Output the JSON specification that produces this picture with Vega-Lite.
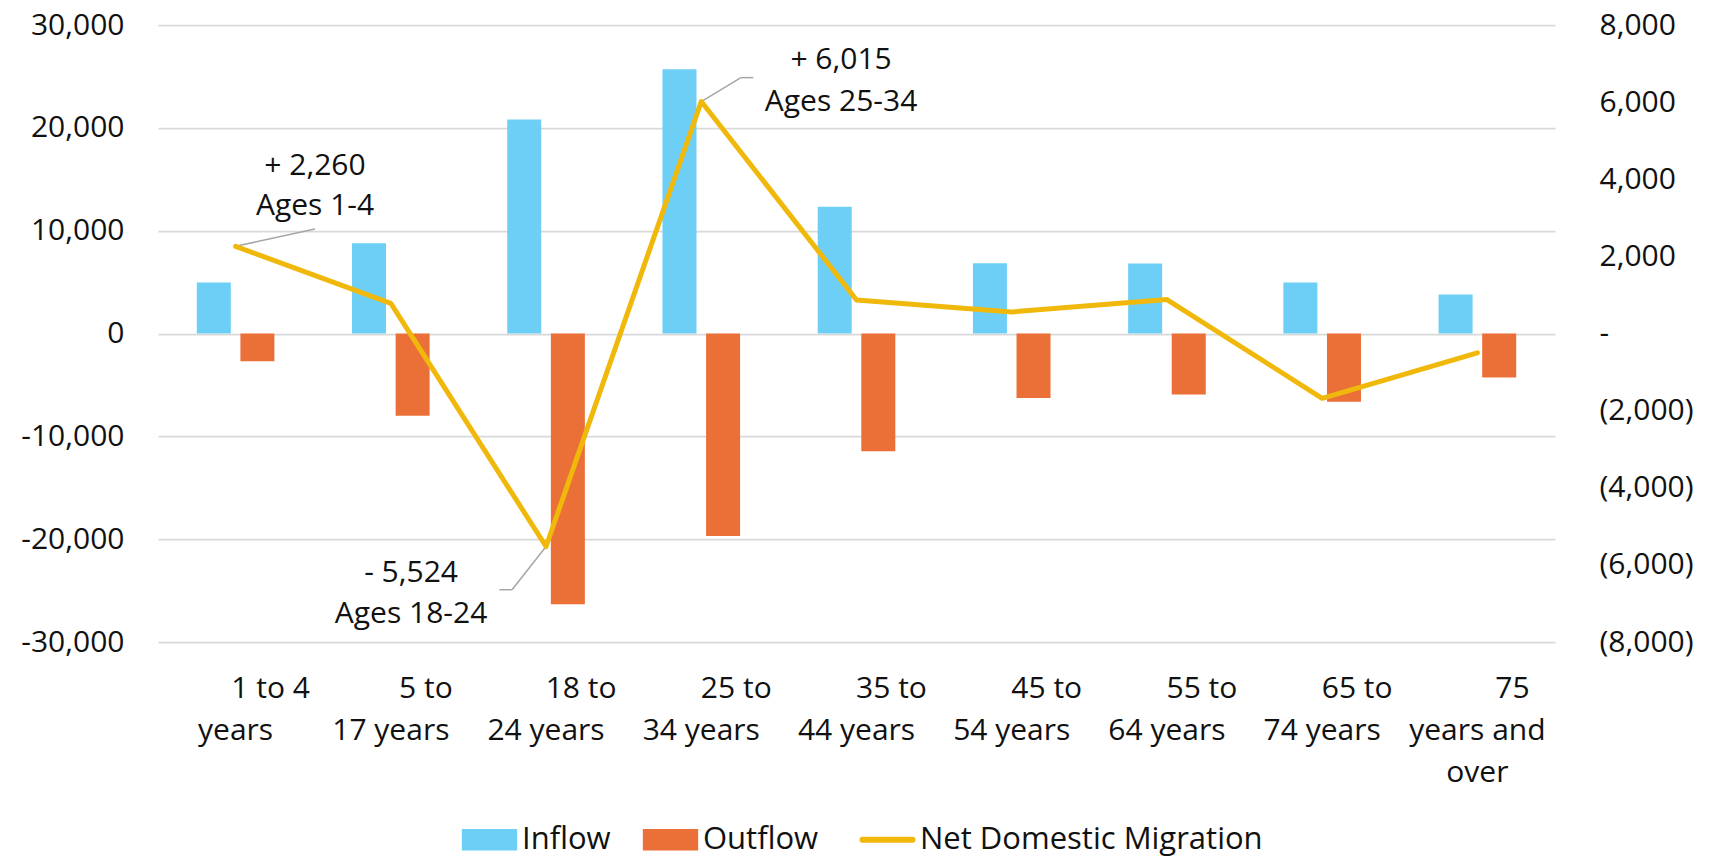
{
  "$schema": "https://vega.github.io/schema/vega-lite/v6.json",
  "width": 1397,
  "height": 617,
  "autosize": {"type": "none"},
  "padding": {"left": 158, "top": 25, "right": 161, "bottom": 223},
  "background": "white",
  "config": {"view": {"stroke": null}, "font": "Open Sans"},
  "data": {"values": [
    {"age": "1 to 4 years", "series": "Inflow", "value": 4950},
    {"age": "1 to 4 years", "series": "Outflow", "value": -2690},
    {"age": "5 to 17 years", "series": "Inflow", "value": 8780},
    {"age": "5 to 17 years", "series": "Outflow", "value": -8000},
    {"age": "18 to 24 years", "series": "Inflow", "value": 20800},
    {"age": "18 to 24 years", "series": "Outflow", "value": -26324},
    {"age": "25 to 34 years", "series": "Inflow", "value": 25700},
    {"age": "25 to 34 years", "series": "Outflow", "value": -19685},
    {"age": "35 to 44 years", "series": "Inflow", "value": 12330},
    {"age": "35 to 44 years", "series": "Outflow", "value": -11460},
    {"age": "45 to 54 years", "series": "Inflow", "value": 6830},
    {"age": "45 to 54 years", "series": "Outflow", "value": -6270},
    {"age": "55 to 64 years", "series": "Inflow", "value": 6800},
    {"age": "55 to 64 years", "series": "Outflow", "value": -5920},
    {"age": "65 to 74 years", "series": "Inflow", "value": 4960},
    {"age": "65 to 74 years", "series": "Outflow", "value": -6640},
    {"age": "75 years and over", "series": "Inflow", "value": 3790},
    {"age": "75 years and over", "series": "Outflow", "value": -4290},
    {"age": "1 to 4 years", "series": "Net Domestic Migration", "value": 2260, "top": "1 to 4", "note": "+ 2,260\nAges 1-4"},
    {"age": "5 to 17 years", "series": "Net Domestic Migration", "value": 780, "top": "5 to"},
    {"age": "18 to 24 years", "series": "Net Domestic Migration", "value": -5524, "top": "18 to", "note": "- 5,524\nAges 18-24"},
    {"age": "25 to 34 years", "series": "Net Domestic Migration", "value": 6015, "top": "25 to", "note": "+ 6,015\nAges 25-34"},
    {"age": "35 to 44 years", "series": "Net Domestic Migration", "value": 870, "top": "35 to"},
    {"age": "45 to 54 years", "series": "Net Domestic Migration", "value": 560, "top": "45 to"},
    {"age": "55 to 64 years", "series": "Net Domestic Migration", "value": 880, "top": "55 to"},
    {"age": "65 to 74 years", "series": "Net Domestic Migration", "value": -1680, "top": "65 to"},
    {"age": "75 years and over", "series": "Net Domestic Migration", "value": -500, "top": "75"}
  ]},
  "encoding": {
    "x": {
      "field": "age", "type": "nominal", "sort": null,
      "scale": {"domain": ["1 to 4 years", "5 to 17 years", "18 to 24 years", "25 to 34 years", "35 to 44 years", "45 to 54 years", "55 to 64 years", "65 to 74 years", "75 years and over"], "paddingInner": 0.5, "paddingOuter": 0.25},
      "axis": {
        "orient": "bottom", "title": null, "domain": false, "ticks": false, "tickSize": 0, "grid": false,
        "labelPadding": 73, "labelFontSize": 30, "labelFont": "Open Sans", "labelColor": "#111111",
        "labelAngle": 0, "labelBaseline": "top", "labelLineHeight": 42, "labelLimit": 0, "labelOverlap": false,
        "labelExpr": "({'1 to 4 years': 'years', '5 to 17 years': '17 years', '18 to 24 years': '24 years', '25 to 34 years': '34 years', '35 to 44 years': '44 years', '45 to 54 years': '54 years', '55 to 64 years': '64 years', '65 to 74 years': '74 years', '75 years and over': ['years and', 'over']})[datum.value]"
      }
    }
  },
  "layer": [
    {
      "transform": [{"filter": "datum.series !== 'Net Domestic Migration'"}],
      "mark": {"type": "bar"},
      "encoding": {
        "y": {
          "field": "value", "type": "quantitative",
          "scale": {"domain": [-30000, 30000], "nice": false, "zero": true},
          "axis": {
            "orient": "left", "title": null, "values": [-30000, -20000, -10000, 0, 10000, 20000, 30000],
            "grid": true, "gridColor": "#D9D9D9", "gridWidth": 1.75, "domain": false, "ticks": false, "tickSize": 0,
            "labelPadding": 34, "labelFontSize": 30, "labelFont": "Open Sans", "labelColor": "#111111",
            "labelExpr": "(datum.value < 0 ? '-' : '') + format(abs(datum.value), ',')"
          }
        },
        "xOffset": {"field": "series", "type": "nominal", "scale": {"domain": ["Inflow", "Outflow"], "paddingInner": 0.22, "paddingOuter": 0}},
        "color": {
          "field": "series", "type": "nominal",
          "scale": {"domain": ["Inflow", "Outflow", "Net Domestic Migration"], "range": ["#6DCFF6", "#EA7037", "#F1B80C"]},
          "legend": {
            "orient": "none", "legendX": 316, "legendY": 799, "direction": "horizontal", "title": null,
            "labelFontSize": 31, "labelFont": "Open Sans", "labelColor": "#111111", "labelLimit": 0,
            "symbolSize": 3300, "labelOffset": 17, "columnPadding": 31,
            "encode": {"symbols": {"update": {
              "shape": {"signal": "datum.value === 'Net Domestic Migration' ? 'stroke' : 'M-0.963,-0.37H0.963V0.37H-0.963Z'"},
              "size": {"signal": "datum.value === 'Net Domestic Migration' ? 2500 : 3300"},
              "fill": {"signal": "datum.value === 'Net Domestic Migration' ? 'transparent' : scale('color', datum.value)"},
              "stroke": {"signal": "datum.value === 'Net Domestic Migration' ? scale('color', datum.value) : 'transparent'"},
              "strokeWidth": {"signal": "datum.value === 'Net Domestic Migration' ? 6 : 0"},
              "strokeCap": {"value": "round"},
              "opacity": {"value": 1}
            }}}
          }
        }
      }
    },
    {
      "transform": [{"filter": "datum.series === 'Net Domestic Migration'"}],
      "mark": {"type": "text", "align": "center", "baseline": "top", "dx": 35, "dy": 32, "fontSize": 30, "font": "Open Sans", "color": "#111111"},
      "encoding": {
        "y": {"datum": -30000, "type": "quantitative", "scale": {"domain": [-30000, 30000], "nice": false}, "axis": null},
        "text": {"field": "top", "type": "nominal"}
      }
    },
    {
      "transform": [{"filter": "datum.age === '1 to 4 years' && datum.series === 'Net Domestic Migration'"}],
      "mark": {"type": "rule", "color": "#A6A6A6", "strokeWidth": 1.5, "x2Offset": 79.4, "y2Offset": -17.4},
      "encoding": {
        "y": {"field": "value", "type": "quantitative", "scale": {"domain": [-8000, 8000], "nice": false}, "axis": null},
        "x2": {"field": "age", "bandPosition": 0.5},
        "y2": {"field": "value"}
      }
    },
    {
      "transform": [{"filter": "datum.age === '25 to 34 years' && datum.series === 'Net Domestic Migration'"}],
      "mark": {"type": "rule", "color": "#A6A6A6", "strokeWidth": 1.5, "x2Offset": 39.6, "y2Offset": -23.9},
      "encoding": {
        "y": {"field": "value", "type": "quantitative", "scale": {"domain": [-8000, 8000], "nice": false}, "axis": null},
        "x2": {"field": "age", "bandPosition": 0.5},
        "y2": {"field": "value"}
      }
    },
    {
      "transform": [{"filter": "datum.age === '25 to 34 years' && datum.series === 'Net Domestic Migration'"}],
      "mark": {"type": "rule", "color": "#A6A6A6", "strokeWidth": 1.5, "xOffset": 39.6, "x2Offset": 52, "yOffset": -23.9, "y2Offset": -23.9},
      "encoding": {
        "y": {"field": "value", "type": "quantitative", "scale": {"domain": [-8000, 8000], "nice": false}, "axis": null},
        "x2": {"field": "age", "bandPosition": 0.5},
        "y2": {"field": "value"}
      }
    },
    {
      "transform": [{"filter": "datum.age === '18 to 24 years' && datum.series === 'Net Domestic Migration'"}],
      "mark": {"type": "rule", "color": "#A6A6A6", "strokeWidth": 1.5, "x2Offset": -34, "y2Offset": 43.2},
      "encoding": {
        "y": {"field": "value", "type": "quantitative", "scale": {"domain": [-8000, 8000], "nice": false}, "axis": null},
        "x2": {"field": "age", "bandPosition": 0.5},
        "y2": {"field": "value"}
      }
    },
    {
      "transform": [{"filter": "datum.age === '18 to 24 years' && datum.series === 'Net Domestic Migration'"}],
      "mark": {"type": "rule", "color": "#A6A6A6", "strokeWidth": 1.5, "xOffset": -34, "x2Offset": -46.6, "yOffset": 43.2, "y2Offset": 43.2},
      "encoding": {
        "y": {"field": "value", "type": "quantitative", "scale": {"domain": [-8000, 8000], "nice": false}, "axis": null},
        "x2": {"field": "age", "bandPosition": 0.5},
        "y2": {"field": "value"}
      }
    },
    {
      "transform": [{"filter": "datum.series === 'Net Domestic Migration'"}],
      "mark": {"type": "line", "strokeWidth": 5, "strokeJoin": "round", "strokeCap": "round"},
      "encoding": {
        "y": {
          "field": "value", "type": "quantitative",
          "scale": {"domain": [-8000, 8000], "nice": false},
          "axis": {
            "orient": "right", "title": null, "values": [-8000, -6000, -4000, -2000, 0, 2000, 4000, 6000, 8000],
            "grid": false, "domain": false, "ticks": false, "tickSize": 0,
            "labelPadding": 44, "labelFontSize": 30, "labelFont": "Open Sans", "labelColor": "#111111", "labelAlign": "left",
            "labelExpr": "datum.value === 0 ? '-' : (datum.value < 0 ? '(' + format(-datum.value, ',') + ')' : format(datum.value, ','))"
          }
        },
        "color": {"field": "series", "type": "nominal"},
        "order": {"value": null}
      }
    },
    {
      "transform": [{"filter": "datum.age === '1 to 4 years' && datum.series === 'Net Domestic Migration'"}],
      "mark": {"type": "text", "align": "center", "baseline": "top", "dx": 79.4, "dy": -95.4, "lineBreak": "\n", "lineHeight": 40, "fontSize": 30, "font": "Open Sans", "color": "#111111"},
      "encoding": {
        "y": {"field": "value", "type": "quantitative", "scale": {"domain": [-8000, 8000], "nice": false}, "axis": null},
        "text": {"field": "note", "type": "nominal"}
      }
    },
    {
      "transform": [{"filter": "datum.age === '25 to 34 years' && datum.series === 'Net Domestic Migration'"}],
      "mark": {"type": "text", "align": "center", "baseline": "top", "dx": 139.8, "dy": -56.3, "lineBreak": "\n", "lineHeight": 41.7, "fontSize": 30, "font": "Open Sans", "color": "#111111"},
      "encoding": {
        "y": {"field": "value", "type": "quantitative", "scale": {"domain": [-8000, 8000], "nice": false}, "axis": null},
        "text": {"field": "note", "type": "nominal"}
      }
    },
    {
      "transform": [{"filter": "datum.age === '18 to 24 years' && datum.series === 'Net Domestic Migration'"}],
      "mark": {"type": "text", "align": "center", "baseline": "top", "dx": -135, "dy": 11.2, "lineBreak": "\n", "lineHeight": 41.3, "fontSize": 30, "font": "Open Sans", "color": "#111111"},
      "encoding": {
        "y": {"field": "value", "type": "quantitative", "scale": {"domain": [-8000, 8000], "nice": false}, "axis": null},
        "text": {"field": "note", "type": "nominal"}
      }
    }
  ],
  "resolve": {"scale": {"y": "independent"}}
}
